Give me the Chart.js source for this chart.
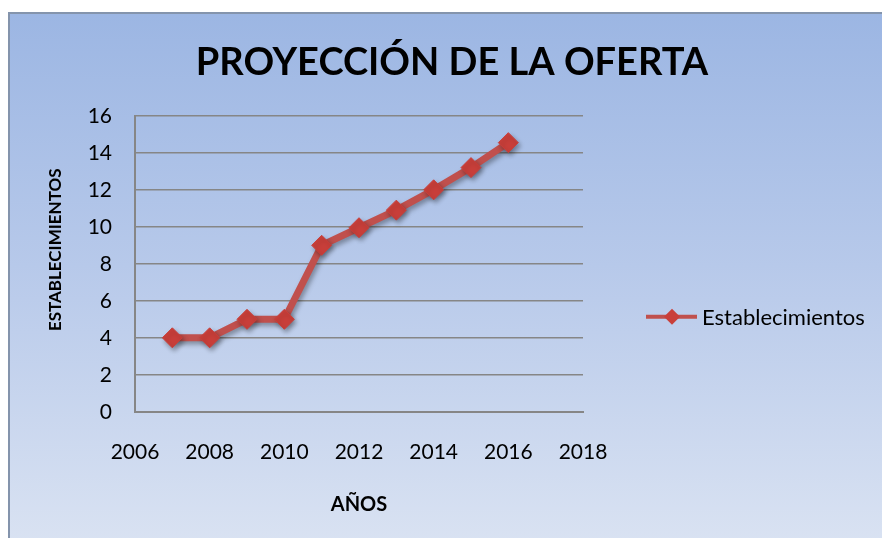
<!DOCTYPE html>
<html>
<head>
<meta charset="utf-8">
<script src="https://cdn.jsdelivr.net/npm/chart.js@4"></script>
<style>
  html, body { margin: 0; padding: 0; background: #fff; overflow: hidden; }
  #wrap { position: relative; width: 882px; height: 538px; }
  #panel {
    position: absolute; left: 8px; top: 12px; width: 900px; height: 560px;
    border-left: 2px solid #8494ac; border-top: 2px solid #8494ac;
    background: linear-gradient(to bottom, #9cb6e3 0%, #b7c9ea 45%, #dde5f3 100%);
  }
  #chart { position: absolute; left: 0; top: 0; }
</style>
</head>
<body>
<div id="wrap">
  <div id="panel"></div>
  <canvas id="chart" width="882" height="538"></canvas>
</div>
<script>
const years = [2007, 2008, 2009, 2010, 2011, 2012, 2013, 2014, 2015, 2016];
const establecimientos = [4, 4, 5, 5, 9, 9.95, 10.9, 12, 13.2, 14.55];
const xTicks = [2006, 2008, 2010, 2012, 2014, 2016, 2018];
const yTicks = [0, 2, 4, 6, 8, 10, 12, 14, 16];

const FONT = "Lato, 'Liberation Sans', Arial, sans-serif";
const LINE_RED = '#c0504d';
const MARK_RED = '#c93f3a';

// sombra suave para la serie
const shadowPlugin = {
    id: 'shadow',
    beforeDatasetDraw(chart) {
        const ctx = chart.ctx;
        ctx.save();
        ctx.shadowColor = 'rgba(0,0,0,0.35)';
        ctx.shadowBlur = 5;
        ctx.shadowOffsetX = 2;
        ctx.shadowOffsetY = 3;
    },
    afterDatasetDraw(chart) {
        chart.ctx.restore();
    }
};

// leyenda a la derecha: linea + rombo + texto
const legendPlugin = {
    id: 'sideLegend',
    afterDraw(chart) {
        const ctx = chart.ctx;
        const ds = chart.data.datasets[0];
        const y = (chart.chartArea.top + chart.chartArea.bottom) / 2 + 53;
        const x0 = chart.chartArea.right + 63;
        ctx.save();
        ctx.strokeStyle = ds.borderColor;
        ctx.lineWidth = 4;
        ctx.beginPath();
        ctx.moveTo(x0, y);
        ctx.lineTo(x0 + 51, y);
        ctx.stroke();
        ctx.fillStyle = ds.pointBackgroundColor;
        const r = 8;
        ctx.beginPath();
        ctx.moveTo(x0 + 26, y - r);
        ctx.lineTo(x0 + 26 + r, y);
        ctx.lineTo(x0 + 26, y + r);
        ctx.lineTo(x0 + 26 - r, y);
        ctx.closePath();
        ctx.fill();
        ctx.fillStyle = '#000';
        ctx.font = '22px ' + FONT;
        ctx.textBaseline = 'middle';
        ctx.fillText(ds.label, x0 + 56, y + 1);
        ctx.restore();
    }
};

// titulo vertical del eje y, algo por encima del centro
const yTitlePlugin = {
    id: 'yTitle',
    afterDraw(chart) {
        const ctx = chart.ctx;
        const s = chart.scales.y;
        ctx.save();
        ctx.translate(s.left + 34, (chart.chartArea.top + chart.chartArea.bottom) / 2 - 14);
        ctx.rotate(-Math.PI / 2);
        ctx.fillStyle = '#000';
        ctx.font = 'bold 17px ' + FONT;
        ctx.textAlign = 'center';
        ctx.textBaseline = 'middle';
        ctx.fillText('ESTABLECIMIENTOS', 0, 0);
        ctx.restore();
    }
};

new Chart(document.getElementById('chart'), {
    type: 'line',
    data: {
        datasets: [{
            label: 'Establecimientos',
            data: years.map((y, i) => ({ x: y, y: establecimientos[i] })),
            borderColor: LINE_RED,
            borderWidth: 7,
            pointStyle: 'rectRot',
            pointRadius: 10,
            pointBackgroundColor: MARK_RED,
            pointBorderColor: MARK_RED,
            pointBorderWidth: 1,
            tension: 0
        }]
    },
    options: {
        responsive: false,
        animation: false,
        layout: {
            padding: { top: 42, left: 22, right: 0, bottom: 21 }
        },
        plugins: {
            legend: { display: false },
            tooltip: { enabled: false },
            title: {
                display: true,
                text: 'PROYECCIÓN DE LA OFERTA',
                color: '#000',
                font: { family: FONT, size: 38, weight: 'bold', lineHeight: 1.1 },
                padding: { top: 0, bottom: 32 }
            }
        },
        scales: {
            x: {
                type: 'linear',
                min: xTicks[0],
                max: xTicks[xTicks.length - 1],
                afterBuildTicks: s => { s.ticks = xTicks.map(v => ({ value: v })); },
                grid: { display: false, drawTicks: false },
                border: { display: true, color: '#868686', width: 2 },
                ticks: {
                    color: '#000',
                    padding: 28,
                    font: { family: FONT, size: 21 },
                    callback: v => String(v)
                },
                title: {
                    display: true,
                    text: 'AÑOS',
                    color: '#000',
                    font: { family: FONT, size: 20, weight: 'bold', lineHeight: 1.2 },
                    padding: { top: 0, bottom: 0 }
                }
            },
            y: {
                min: yTicks[0],
                max: yTicks[yTicks.length - 1],
                afterBuildTicks: s => { s.ticks = yTicks.map(v => ({ value: v })); },
                afterFit: s => { s.width = 113; },
                grid: { color: '#868686', lineWidth: 1.5, drawTicks: false },
                border: { display: true, color: '#868686', width: 2 },
                ticks: {
                    color: '#000',
                    padding: 23,
                    font: { family: FONT, size: 21 }
                }
            },
            // espacio reservado para la leyenda
            side: {
                type: 'linear',
                position: 'right',
                afterFit: s => { s.width = 299; },
                grid: { display: false, drawTicks: false },
                border: { display: false },
                ticks: { display: false }
            }
        }
    },
    plugins: [shadowPlugin, legendPlugin, yTitlePlugin]
});
</script>
</body>
</html>
